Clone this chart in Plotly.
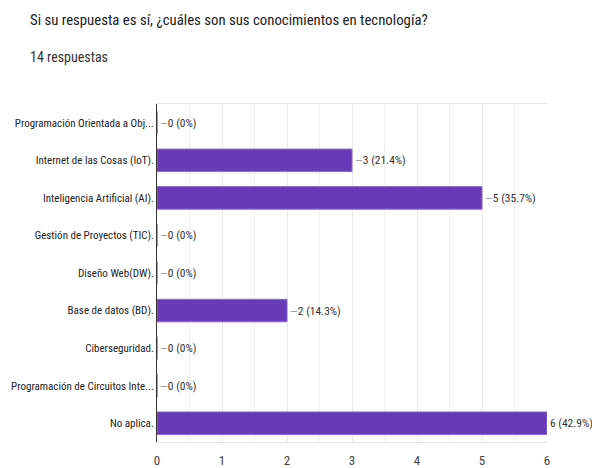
import plotly.graph_objects as go

categories = [
    "Programación Orientada a Obj...",
    "Internet de las Cosas (IoT).",
    "Inteligencia Artificial (AI).",
    "Gestión de Proyectos (TIC).",
    "Diseño Web(DW).",
    "Base de datos (BD).",
    "Ciberseguridad.",
    "Programación de Circuitos Inte...",
    "No aplica.",
]
counts = [0, 3, 5, 0, 0, 2, 0, 0, 6]
pct_labels = ["0%", "21.4%", "35.7%", "0%", "0%", "14.3%", "0%", "0%", "42.9%"]
x_ticks = [0, 1, 2, 3, 4, 5, 6]

FONT = "Roboto Condensed, Arial Narrow, Roboto, Arial, sans-serif"

W, H = 592, 460
L, R, T, B = 149, 53, 96, 26
PW, PH = W - L - R, H - T - B

xmax = max(x_ticks)
templates = [
    ("<span style='color:#999'>—</span>" if c < xmax else "") + "%{x} (%{customdata})"
    for c in counts
]

fig = go.Figure(go.Bar(
    x=counts,
    y=categories,
    orientation="h",
    marker=dict(color="#673ab7", line=dict(color="#8e6ad0", width=1)),
    width=0.6,
    customdata=pct_labels,
    texttemplate=templates,
    textposition="outside",
    textfont=dict(family=FONT, size=11.5, color="#333"),
    cliponaxis=False,
    hoverinfo="skip",
))

fig.update_layout(
    width=W, height=H,
    margin=dict(l=L, r=R, t=T, b=B),
    paper_bgcolor="white",
    plot_bgcolor="white",
    showlegend=False,
    font=dict(family=FONT, color="#333"),
)

fig.add_annotation(
    text="Si su respuesta es sí, ¿cuáles son sus conocimientos en tecnología?",
    xref="paper", yref="paper", x=(20 - L) / PW, y=1 + (T - 12) / PH,
    xanchor="left", yanchor="middle", showarrow=False,
    font=dict(family=FONT, size=14.8, color="#212121"),
)
fig.add_annotation(
    text="14 respuestas",
    xref="paper", yref="paper", x=(20 - L) / PW, y=1 + (T - 49) / PH,
    xanchor="left", yanchor="middle", showarrow=False,
    font=dict(family=FONT, size=14, color="#333"),
)

fig.update_xaxes(
    range=[0, 6],
    tickvals=x_ticks,
    ticktext=[str(v) for v in x_ticks],
    showgrid=True, gridcolor="#e8e8e8", gridwidth=1,
    minor=dict(dtick=0.5, showgrid=True, gridcolor="#eeeeee"),
    zeroline=False,
    showline=True, linecolor="#e6e6e6", mirror=True,
    tickfont=dict(family=FONT, size=13, color="#444"),
    ticks="outside", ticklen=6, tickcolor="rgba(0,0,0,0)",
    automargin=False,
    fixedrange=True,
)
fig.update_yaxes(
    autorange="reversed",
    showline=True, linecolor="#333", linewidth=1,
    showgrid=False,
    tickfont=dict(family=FONT, size=11, color="#222"),
    ticks="", ticklen=2,
    automargin=False,
    fixedrange=True,
)

fig.write_html("out.html")
